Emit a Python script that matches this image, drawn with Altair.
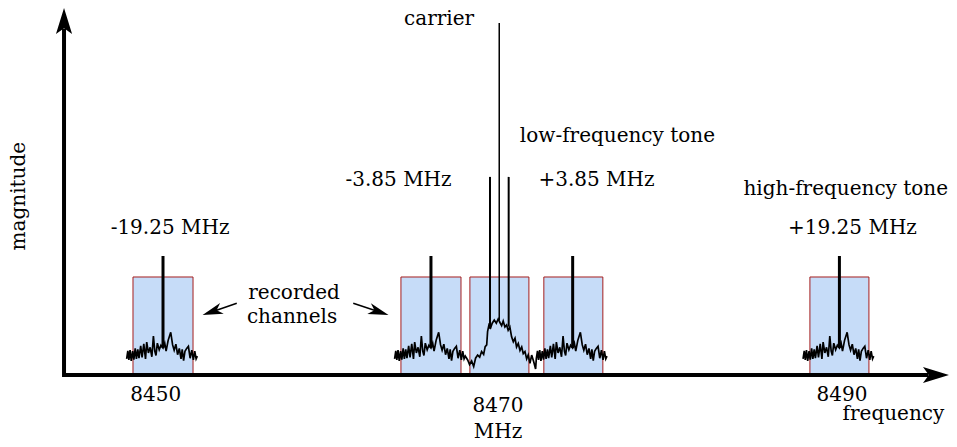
import altair as alt
import pandas as pd

# ---------------- data ----------------
# recorded channel boxes (MHz edges) and their height (arbitrary magnitude units)
box_lo = [8448.67, 8464.29, 8468.31, 8472.62, 8488.13]
box_hi = [8452.17, 8467.79, 8471.75, 8476.06, 8491.57]
box_top = 28.0

# tones
outer_tone_freq = [8450.42, 8466.04, 8474.30, 8489.85]
outer_tone_top = 34.0
outer_tone_base = 7.7
carrier_freq = [8470.02]
carrier_top = 100.6
carrier_base = 15.7
side_freq = [8469.48, 8470.57]
side_top = 56.6
side_base = [13.2, 13.8]

# noise around an outer tone: offset from tone (MHz) and magnitude
noise_off = [-2.12, -2.05, -1.99, -1.92, -1.85, -1.77, -1.70, -1.62, -1.55, -1.47,
             -1.40, -1.30, -1.22, -1.12, -1.02, -0.95, -0.85, -0.75, -0.65, -0.56,
             -0.48, -0.41, -0.33, -0.22, -0.12, 0.00, 0.10, 0.18, 0.30, 0.45,
             0.56, 0.65, 0.75, 0.85, 0.95, 1.05, 1.12, 1.20, 1.28, 1.38,
             1.48, 1.58, 1.68, 1.77, 1.85, 1.93, 2.00]
noise_mag = [4.6, 6.9, 4.3, 7.1, 4.0, 6.8, 4.4, 7.6, 4.6, 7.3,
             4.8, 8.3, 5.0, 8.9, 4.6, 9.4, 6.3, 7.9, 5.2, 11.1,
             6.8, 5.6, 9.1, 7.2, 8.5, 7.7, 9.1, 6.8, 9.9, 12.2,
             8.6, 7.1, 8.8, 5.8, 7.6, 4.6, 7.3, 4.1, 6.8, 7.6,
             8.2, 4.8, 7.1, 4.3, 6.8, 4.6, 5.4]

# noise bump around the carrier: offset from carrier (MHz) and magnitude
bump_off = [-1.84, -1.73, -1.61, -1.49, -1.38, -1.26, -1.14, -1.03, -0.91, -0.82,
            -0.73, -0.68, -0.60, -0.50, -0.41, -0.29, -0.17, -0.06, 0.04, 0.14,
            0.23, 0.33, 0.43, 0.52, 0.62, 0.72, 0.82, 0.92, 1.01, 1.11,
            1.21, 1.31, 1.40, 1.50, 1.60, 1.69, 1.79, 1.89, 2.01, 2.12]
bump_mag = [4.3, 3.0, 4.0, 2.4, 4.8, 5.7, 5.1, 6.7, 5.9, 8.1,
            8.6, 12.4, 14.3, 13.5, 14.8, 15.7, 14.8, 16.0, 15.0, 14.1,
            15.4, 13.7, 14.3, 12.8, 13.7, 10.9, 9.5, 10.5, 8.0, 9.0,
            7.0, 8.0, 6.1, 6.7, 4.6, 5.7, 3.3, 5.7, 3.8, 1.7]

# text labels
label_text = ["carrier", "low-frequency tone", "-3.85 MHz", "+3.85 MHz",
              "high-frequency tone", "+19.25 MHz", "-19.25 MHz",
              "recorded", "channels", "8450", "8470", "8490", "MHz", "frequency"]
label_freq = [8466.51, 8476.91, 8464.15, 8475.69, 8490.22, 8490.61, 8450.83,
              8458.06, 8457.94, 8450.0, 8469.95, 8490.0, 8469.95, 8493.0]
label_mag = [100.0, 66.6, 54.0, 54.0, 51.4, 40.3, 40.3,
             21.7, 14.9, -7.4, -10.6, -7.4, -18.0, -12.9]

# axes frame (origin and ends)
axis_x0 = 8444.65
axis_x1 = 8495.05
axis_y1 = 98.9

# ---------------- tables ----------------
X = alt.Scale(domain=[8441.384, 8496.238], nice=False, zero=False)
Y = alt.Scale(domain=[-18.286, 104.857], nice=False, zero=False)

boxes = pd.DataFrame({"lo": box_lo, "hi": box_hi, "b": 0.0, "t": box_top})

tones_outer = pd.DataFrame({"f": outer_tone_freq, "b": outer_tone_base, "t": outer_tone_top})
tones_carrier = pd.DataFrame({"f": carrier_freq, "b": carrier_base, "t": carrier_top})
tones_side = pd.DataFrame({"f": side_freq, "b": side_base, "t": side_top})

rows = []
def add_pattern(seg, center, offs, mags, start):
    for i, (o, m) in enumerate(zip(offs, mags)):
        rows.append({"seg": seg, "i": start + i, "f": center + o, "m": m})
    return start + len(offs)

add_pattern("a", outer_tone_freq[0], noise_off, noise_mag, 0)
k = add_pattern("b", outer_tone_freq[1], noise_off, noise_mag, 0)
k = add_pattern("b", carrier_freq[0], bump_off, bump_mag, k)
add_pattern("b", outer_tone_freq[2], noise_off, noise_mag, k)
add_pattern("c", outer_tone_freq[3], noise_off, noise_mag, 0)
noise = pd.DataFrame(rows)

frame = pd.DataFrame({"f": [axis_x0, axis_x0, axis_x1], "m": [axis_y1, 0.0, 0.0], "i": [0, 1, 2]})

labels = pd.DataFrame({"text": label_text, "f": label_freq, "m": label_mag})

# ---------------- layers ----------------
xq = lambda f: alt.X(f, type="quantitative", scale=X, axis=None)
yq = lambda f: alt.Y(f, type="quantitative", scale=Y, axis=None)

rect = alt.Chart(boxes).mark_rect(fill="#c6dcf8", stroke="#a51e1e", strokeWidth=1).encode(
    x=xq("lo"), x2="hi", y=yq("b"), y2="t")

r_outer = alt.Chart(tones_outer).mark_rule(color="black", strokeWidth=3).encode(
    x=xq("f"), y=yq("b"), y2="t")
r_carrier = alt.Chart(tones_carrier).mark_rule(color="black", strokeWidth=1.5).encode(
    x=xq("f"), y=yq("b"), y2="t")
r_side = alt.Chart(tones_side).mark_rule(color="black", strokeWidth=2).encode(
    x=xq("f"), y=yq("b"), y2="t")

noise_line = alt.Chart(noise).mark_line(color="black", strokeWidth=1.7, strokeJoin="miter").encode(
    x=xq("f"), y=yq("m"), detail="seg:N", order="i:Q")

frame_line = alt.Chart(frame).mark_line(color="black", strokeWidth=4, strokeJoin="miter").encode(
    x=xq("f"), y=yq("m"), order="i:Q")

head_shape = "M0,-1L0.62,1L0,0.55L-0.62,1Z"
ax_heads = pd.DataFrame({"f": [8495.48, axis_x0], "m": [0.0, 101.14], "a": [90, 0]})
heads = alt.Chart(ax_heads).mark_point(shape=head_shape, filled=True, color="black",
                                       size=676, opacity=1, strokeWidth=0).encode(
    x=xq("f"), y=yq("m"), angle=alt.Angle("a:Q", scale=None))

small_heads = pd.DataFrame({"f": [8453.29, 8463.0], "m": [18.09, 18.06], "a": [251, 108.5]})
sheads = alt.Chart(small_heads).mark_point(shape="M0,-1L0.55,1L0,0.45L-0.55,1Z", filled=True,
                                           color="black", size=420, opacity=1, strokeWidth=0).encode(
    x=xq("f"), y=yq("m"), angle=alt.Angle("a:Q", scale=None))

shafts = pd.DataFrame({"f": [8454.72, 8453.29, 8461.51, 8463.0],
                       "m": [20.49, 18.09, 20.49, 18.06],
                       "g": ["l", "l", "r", "r"]})
shaft_lines = alt.Chart(shafts).mark_line(color="black", strokeWidth=1.5).encode(
    x=xq("f"), y=yq("m"), detail="g:N")

text = alt.Chart(labels).mark_text(font="DejaVu Serif", fontSize=20, align="center",
                                   baseline="alphabetic", color="black").encode(
    x=xq("f"), y=yq("m"), text="text:N")

ylab = alt.Chart(pd.DataFrame({"text": ["magnitude"], "f": [8442.40], "m": [51.1]})).mark_text(
    font="DejaVu Serif", fontSize=20, align="center", baseline="alphabetic", angle=270,
    color="black").encode(x=xq("f"), y=yq("m"), text="text:N")

chart = alt.layer(rect, r_outer, r_carrier, r_side, noise_line, frame_line, heads,
                  shaft_lines, sheads, text, ylab).properties(
    width=941, height=431, padding=0,
    autosize=alt.AutoSizeParams(type="none")
).configure_view(stroke=None)

chart.save("out.html", embed_options={"renderer": "svg", "actions": False})
